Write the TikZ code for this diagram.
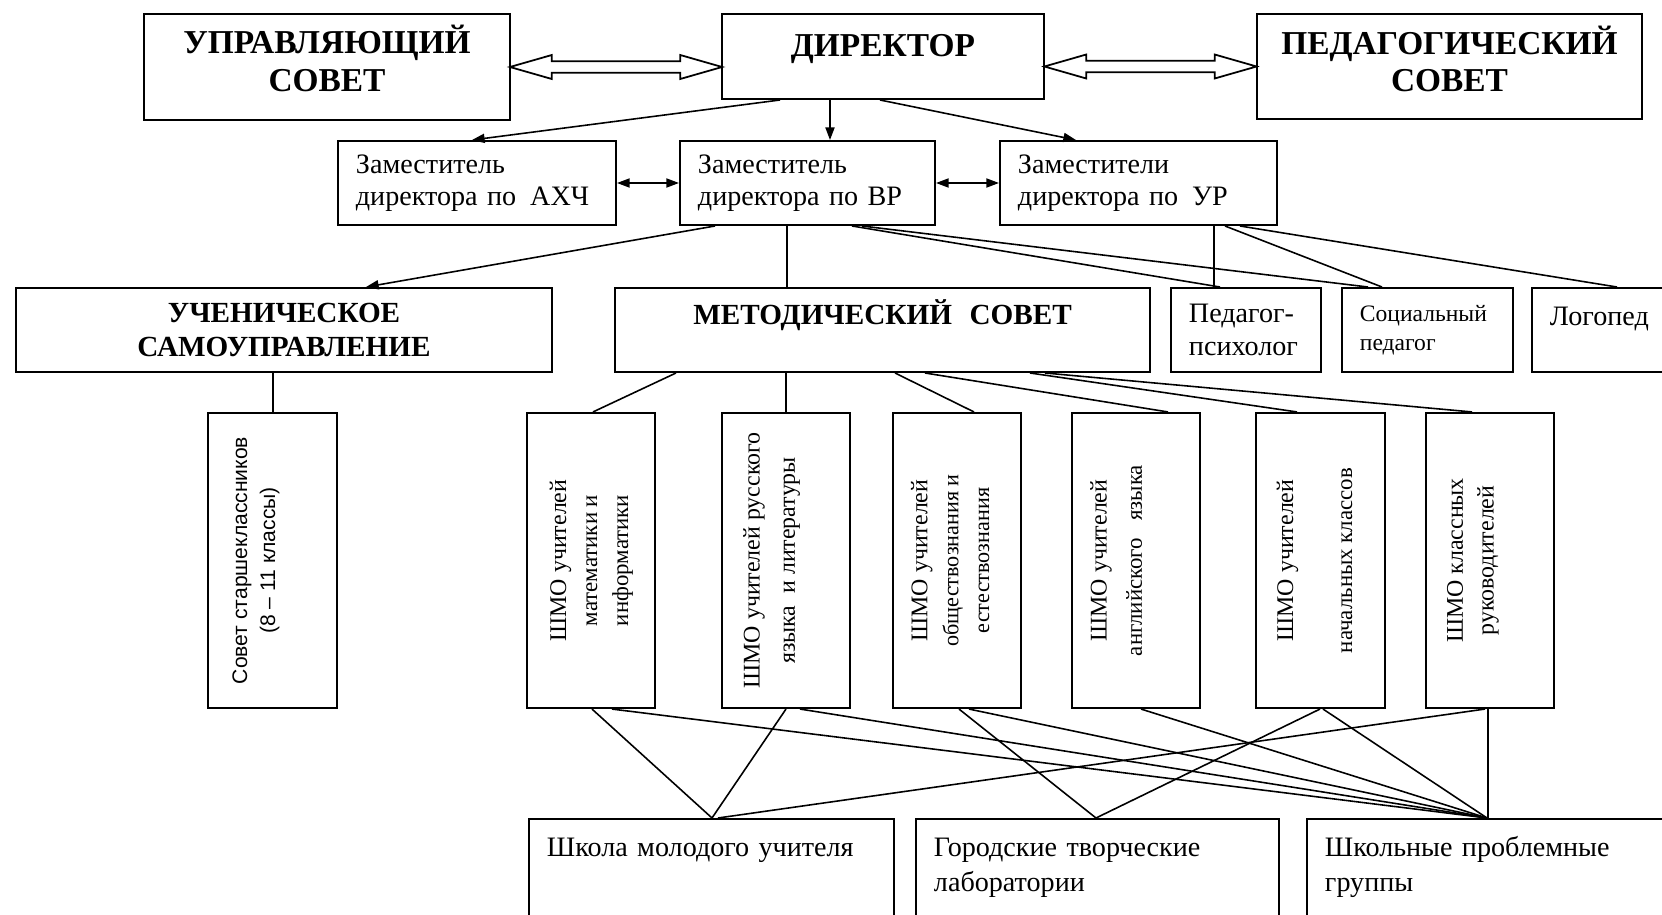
\documentclass[tikz,border=0pt]{standalone}
\usepackage{fontspec}
\setmainfont{Liberation Serif}
\newfontfamily\sansfam{Liberation Sans}
\usepackage{tikz}
\usetikzlibrary{arrows.meta,shapes.arrows}
\tikzset{
  box/.style={draw, line width=0.55pt, inner sep=0pt, align=center},
  bigbox/.style={box, font=\fontsize{9.5}{10.8}\selectfont\bfseries},
  midbox/.style={box, minimum height=0.84cm, font=\fontsize{8.3}{9.7}\selectfont\bfseries},
  zambox/.style={box, minimum height=0.84cm, inner xsep=0.18cm, align=left, font=\fontsize{8}{9.1}\selectfont},
  vbox/.style={box, minimum width=1.28cm, minimum height=2.95cm, font=\fontsize{6.8}{8.8}\selectfont},
  lowbox/.style={box, anchor=north west, inner xsep=0.18cm, align=left, text height=0.38cm, text depth=1cm, font=\fontsize{8}{9.7}\selectfont},
  link/.style={line width=0.45pt},
  arr/.style={link, -{Triangle[length=3.6pt,width=2.6pt]}},
  arrs/.style={link, {Triangle[length=3.6pt,width=2.6pt]}-{Triangle[length=3.6pt,width=2.6pt]}},
  hollow/.style={draw, double arrow, line width=0.5pt, inner sep=1.4pt, minimum height=2.12cm,
    double arrow head extend=1.75pt, double arrow tip angle=32}
}
\begin{document}
\begin{tikzpicture}[x=0.01cm, y=-0.01cm]
\useasboundingbox (0,0) rectangle (1662,915);
\node[bigbox, minimum width=3.66cm, minimum height=1.06cm, text width=3.66cm, text height=8pt, text depth=15.4pt] (us) at (327,67) {УПРАВЛЯЮЩИЙ\\СОВЕТ};
\node[bigbox, minimum width=3.22cm, minimum height=0.85cm, text height=6.5pt, text depth=6.5pt] (dir) at (883,56.5) {ДИРЕКТОР};
\node[bigbox, minimum width=3.85cm, minimum height=1.05cm, text width=3.85cm, text height=8pt, text depth=15.1pt] (ps) at (1449.5,66.5) {ПЕДАГОГИЧЕСКИЙ\\СОВЕТ};

\node[zambox, text width=2.42cm] (axc) at (477,183) {Заместитель\\директора по\kern4pt АХЧ};
\node[zambox, text width=2.19cm] (vr) at (807.5,183) {Заместитель\\директора по ВР};
\node[zambox, text width=2.41cm] (ur) at (1138.5,183) {Заместители\\директора по\kern4pt УР};

\node[midbox, minimum width=5.36cm] (uch) at (284,330) {УЧЕНИЧЕСКОЕ\\САМОУПРАВЛЕНИЕ};
\node[midbox, minimum width=5.35cm, text height=6pt, text depth=9.4pt] (ms) at (882.5,330) {МЕТОДИЧЕСКИЙ\kern5pt СОВЕТ};
\node[zambox, text width=1.14cm, font=\fontsize{8}{9.4}\selectfont] (pp) at (1246,330) {Педагог-\\психолог};
\node[zambox, text width=1.35cm, font=\fontsize{6.7}{8.3}\selectfont] (sp) at (1427.5,330) {Социальный\\педагог};
\node[zambox, text width=1.32cm, text height=6pt, text depth=8.8pt] (lg) at (1616,330) {Логопед};

\node[vbox, font=\fontsize{6}{8}\sansfam] (sov) at (272.5,560.5) {\rotatebox{90}{\begin{tabular}{@{}c@{}}Совет старшеклассников\\(8 – 11 классы)\end{tabular}}\kern9.7pt};
\node[vbox] (m1) at (591,560.5) {\rotatebox{90}{\begin{tabular}{@{}c@{}}ШМО учителей\\\fontsize{6.5}{8.8}\selectfont математики и\\\fontsize{6.5}{8.8}\selectfont информатики\end{tabular}}};
\node[vbox] (m2) at (786,560.5) {\rotatebox{90}{\begin{tabular}{@{}c@{}}ШМО учителей русского\\[1.2pt]языка\ \ и литературы\end{tabular}}\kern8.5pt};
\node[vbox] (m3) at (957,560.5) {\rotatebox{90}{\begin{tabular}{@{}c@{}}ШМО учителей\\\fontsize{6.3}{8.8}\selectfont обществознания и\\\fontsize{6.3}{8.8}\selectfont естествознания\end{tabular}}\kern2.8pt};
\node[vbox] (m4) at (1136,560.5) {\rotatebox{90}{\begin{tabular}{@{}c@{}}ШМО учителей\\[1.2pt]\fontsize{6.5}{8.8}\selectfont английского\ \ \ языка\end{tabular}}\kern10.2pt};
\node[vbox] (m5) at (1320.5,560.5) {\rotatebox{90}{\begin{tabular}{@{}c@{}}ШМО учителей\\[8pt]\fontsize{6.5}{8.8}\selectfont начальных классов\end{tabular}}\kern2.3pt};
\node[vbox] (m6) at (1490,560.5) {\rotatebox{90}{\begin{tabular}{@{}c@{}}ШМО классных\\руководителей\end{tabular}}\kern10.2pt};

\node[lowbox, text width=3.29cm] (shmu) at (528,818) {Школа молодого учителя};
\node[lowbox, text width=3.27cm] (gtl) at (915,818) {Городские творческие\\лаборатории};
\node[lowbox, text width=3.78cm] (spg) at (1306,818) {Школьные проблемные\\группы};

\path (us.east) -- node[hollow] (us-dir) {} (us.east -| dir.west);
\path (ps.west -| dir.east) -- node[hollow] (dir-ps) {} (ps.west);
\draw[arr] (780,0 |- dir.south) -- (472,0 |- axc.north);
\draw[arr] (830,0 |- dir.south) -- (830,0 |- vr.north);
\draw[arr] (880,0 |- dir.south) -- (1076,0 |- ur.north);
\draw[arrs] (axc.east) -- (vr.west);
\draw[arrs] (vr.east) -- (ur.west);

\draw[arr] (715,0 |- vr.south) -- (366,0 |- uch.north);
\draw[link] (787,0 |- vr.south) -- (787,0 |- ms.north);
\draw[link] (852,0 |- vr.south) -- (1220,0 |- pp.north);
\draw[link] (862,0 |- vr.south) -- (1368,0 |- sp.north);
\draw[link] (1214,0 |- ur.south) -- (1214,0 |- pp.north);
\draw[link] (1225,0 |- ur.south) -- (1382,0 |- sp.north);
\draw[link] (1240,0 |- ur.south) -- (1617,0 |- lg.north);

\draw[link] (273,0 |- uch.south) -- (273,0 |- sov.north);
\draw[link] (676,0 |- ms.south) -- (593,0 |- m1.north);
\draw[link] (786,0 |- ms.south) -- (786,0 |- m2.north);
\draw[link] (895,0 |- ms.south) -- (974,0 |- m3.north);
\draw[link] (925,0 |- ms.south) -- (1168,0 |- m4.north);
\draw[link] (1030,0 |- ms.south) -- (1297,0 |- m5.north);
\draw[link] (1045,0 |- ms.south) -- (1472,0 |- m6.north);

\draw[link] (592,0 |- m1.south) -- (712,0 |- shmu.north);
\draw[link] (612,0 |- m1.south) -- (1487,0 |- spg.north);
\draw[link] (786,0 |- m2.south) -- (712,0 |- shmu.north);
\draw[link] (800,0 |- m2.south) -- (1487,0 |- spg.north);
\draw[link] (959,0 |- m3.south) -- (1096,0 |- gtl.north);
\draw[link] (969,0 |- m3.south) -- (1487,0 |- spg.north);
\draw[link] (1141,0 |- m4.south) -- (1487,0 |- spg.north);
\draw[link] (1320,0 |- m5.south) -- (1096,0 |- gtl.north);
\draw[link] (1323,0 |- m5.south) -- (1487,0 |- spg.north);
\draw[link] (1485,0 |- m6.south) -- (718,0 |- shmu.north);
\draw[link] (1488,0 |- m6.south) -- (1488,0 |- spg.north);
\end{tikzpicture}
\end{document}
